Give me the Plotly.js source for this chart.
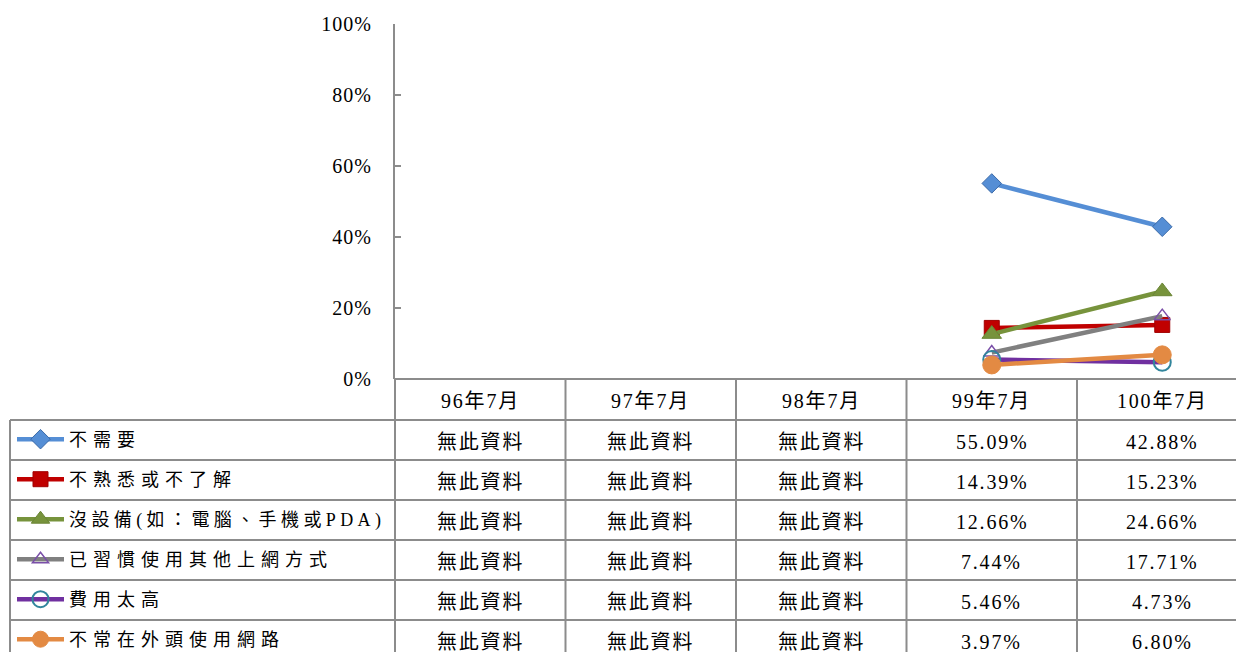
<!DOCTYPE html>
<html><head><meta charset="utf-8">
<script src="https://cdn.plot.ly/plotly-3.0.1.min.js"></script>
<style>
html,body{margin:0;padding:0;overflow:hidden;background:#fff}
#chart{width:1236px;height:652px}
.legend .scrollbox{clip-path:none !important}
.legend .legendtext{letter-spacing:6px}
.legend .groups:nth-of-type(3) .legendtext{letter-spacing:4.4px}
.annotation-text{letter-spacing:1.8px}
.ytick text{letter-spacing:1px}
</style></head><body><div id="chart"></div>
<script>
// ---- data ----
const periods = ['96年7月','97年7月','98年7月','99年7月','100年7月'];
const seriesNames = ['不需要','不熟悉或不了解','沒設備(如：電腦、手機或PDA)','已習慣使用其他上網方式','費用太高','不常在外頭使用網路'];
const noNeed       = [null,null,null,55.09,42.88];
const unfamiliar   = [null,null,null,14.39,15.23];
const noDevice     = [null,null,null,12.66,24.66];
const otherWays    = [null,null,null,7.44,17.71];
const tooExpensive = [null,null,null,5.46,4.73];
const rarelyOut    = [null,null,null,3.97,6.80];
const yTickValues  = [0,20,40,60,80,100];
const missingLabel = '無此資料';

const seriesValues = [noNeed, unfamiliar, noDevice, otherWays, tooExpensive, rarelyOut];

// ---- styles ----
const styles = [
  {line:'#558ED5', sym:'diamond', mc:'#558ED5', ml:'#3B6AA8', size:15, lw:1},
  {line:'#C00000', sym:'square', mc:'#C00000', ml:'#A00000', size:15, lw:1},
  {line:'#77933C', sym:'triangle-up', mc:'#77933C', ml:'#6A8535', size:17, lw:1},
  {line:'#808080', sym:'triangle-up-open', mc:'#7A4FA8', ml:'#7A4FA8', size:14, lw:1.5},
  {line:'#7030A0', sym:'circle-open', mc:'#31859C', ml:'#31859C', size:17, lw:2},
  {line:'#E38A43', sym:'circle', mc:'#E38A43', ml:'#E38A43', size:18, lw:1}
];

const W = 1236, H = 652;
const plotL = 395, plotT = 24, plotB = 379;
const colW = 170.5;
const headerBottom = 420, rowH = 40, tableLeft = 10;
const plotW = W - plotL, plotH = plotB - plotT;
const px2x = px => (px - plotL) / plotW;
const py2y = py => (plotB - py) / plotH;

const serif = '"Liberation Serif", "Times New Roman", "Noto Sans CJK TC", serif';

const traces = seriesNames.map((name, i) => ({
  type: 'scatter', mode: 'lines+markers', name: name,
  x: periods, y: seriesValues[i], legendgroup: 'g' + i,
  line: {color: styles[i].line, width: 4.5},
  marker: {symbol: styles[i].sym, color: styles[i].mc, size: styles[i].size,
           line: {color: styles[i].ml, width: styles[i].lw}},
  cliponaxis: false, connectgaps: false
}));

const gridColor = '#8C8C8C';
const shapes = [];
function hline(py, x0, x1) {
  shapes.push({type:'line', xref:'paper', yref:'paper', x0:px2x(x0), x1:px2x(x1), y0:py2y(py), y1:py2y(py),
    line:{color:gridColor, width:2}});
}
function vline(px, y0, y1) {
  shapes.push({type:'line', xref:'paper', yref:'paper', x0:px2x(px), x1:px2x(px), y0:py2y(y0), y1:py2y(y1),
    line:{color:gridColor, width:2}});
}
hline(plotB, plotL, W + 20);
for (let r = 0; r <= seriesNames.length; r++) hline(headerBottom + r * rowH, tableLeft, W + 20);
vline(tableLeft, headerBottom, H + 20);
for (let c = 0; c < periods.length; c++) vline(plotL + c * colW, plotB, H + 20);

const annotations = [];
const cellFont = {family: serif, size: 20, color: '#000'};
periods.forEach((p, c) => {
  annotations.push({xref:'x', yref:'paper', x:c, y:py2y((plotB + headerBottom) / 2 + 2), text:p,
    showarrow:false, font:cellFont, xanchor:'center', yanchor:'middle'});
});
seriesValues.forEach((vals, r) => {
  vals.forEach((v, c) => {
    annotations.push({xref:'x', yref:'paper', x:c, y:py2y(headerBottom + r * rowH + rowH / 2 + 2),
      text: v === null ? missingLabel : v.toFixed(2) + '%',
      showarrow:false, font:cellFont, xanchor:'center', yanchor:'middle'});
  });
});

const layout = {
  width: W, height: H,
  margin: {l: plotL, r: 0, t: plotT, b: H - plotB, pad: 0},
  paper_bgcolor: '#fff', plot_bgcolor: '#fff',
  showlegend: true,
  legend: {xref:'container', yref:'container', x: 12 / W, y: 1 - 421 / H, xanchor:'left', yanchor:'top',
    font: {family: serif, size: 18, color:'#000'}, tracegroupgap: 13.6, itemwidth: 47,
    bgcolor:'rgba(0,0,0,0)', borderwidth: 0, traceorder:'grouped', itemclick:false, itemdoubleclick:false},
  xaxis: {type:'category', categoryorder:'array', categoryarray: periods,
    range: [-0.5, -0.5 + plotW / colW], showticklabels:false, ticks:'', showgrid:false, zeroline:false,
    showline:false, fixedrange:true},
  yaxis: {range:[0,100], tickvals: yTickValues, ticktext: yTickValues.map(v => v + '%'),
    showline:true, linecolor:gridColor, linewidth:2, ticks:'inside', ticklen:6, tickwidth:1.5, tickcolor:gridColor,
    showgrid:false, zeroline:false, tickfont:{family: serif, size:20, color:'#000'}, ticklabelstandoff: 17,
    fixedrange:true},
  shapes: shapes,
  annotations: annotations
};

Plotly.newPlot('chart', traces, layout, {displayModeBar:false, staticPlot:true});
</script>
</body></html>
